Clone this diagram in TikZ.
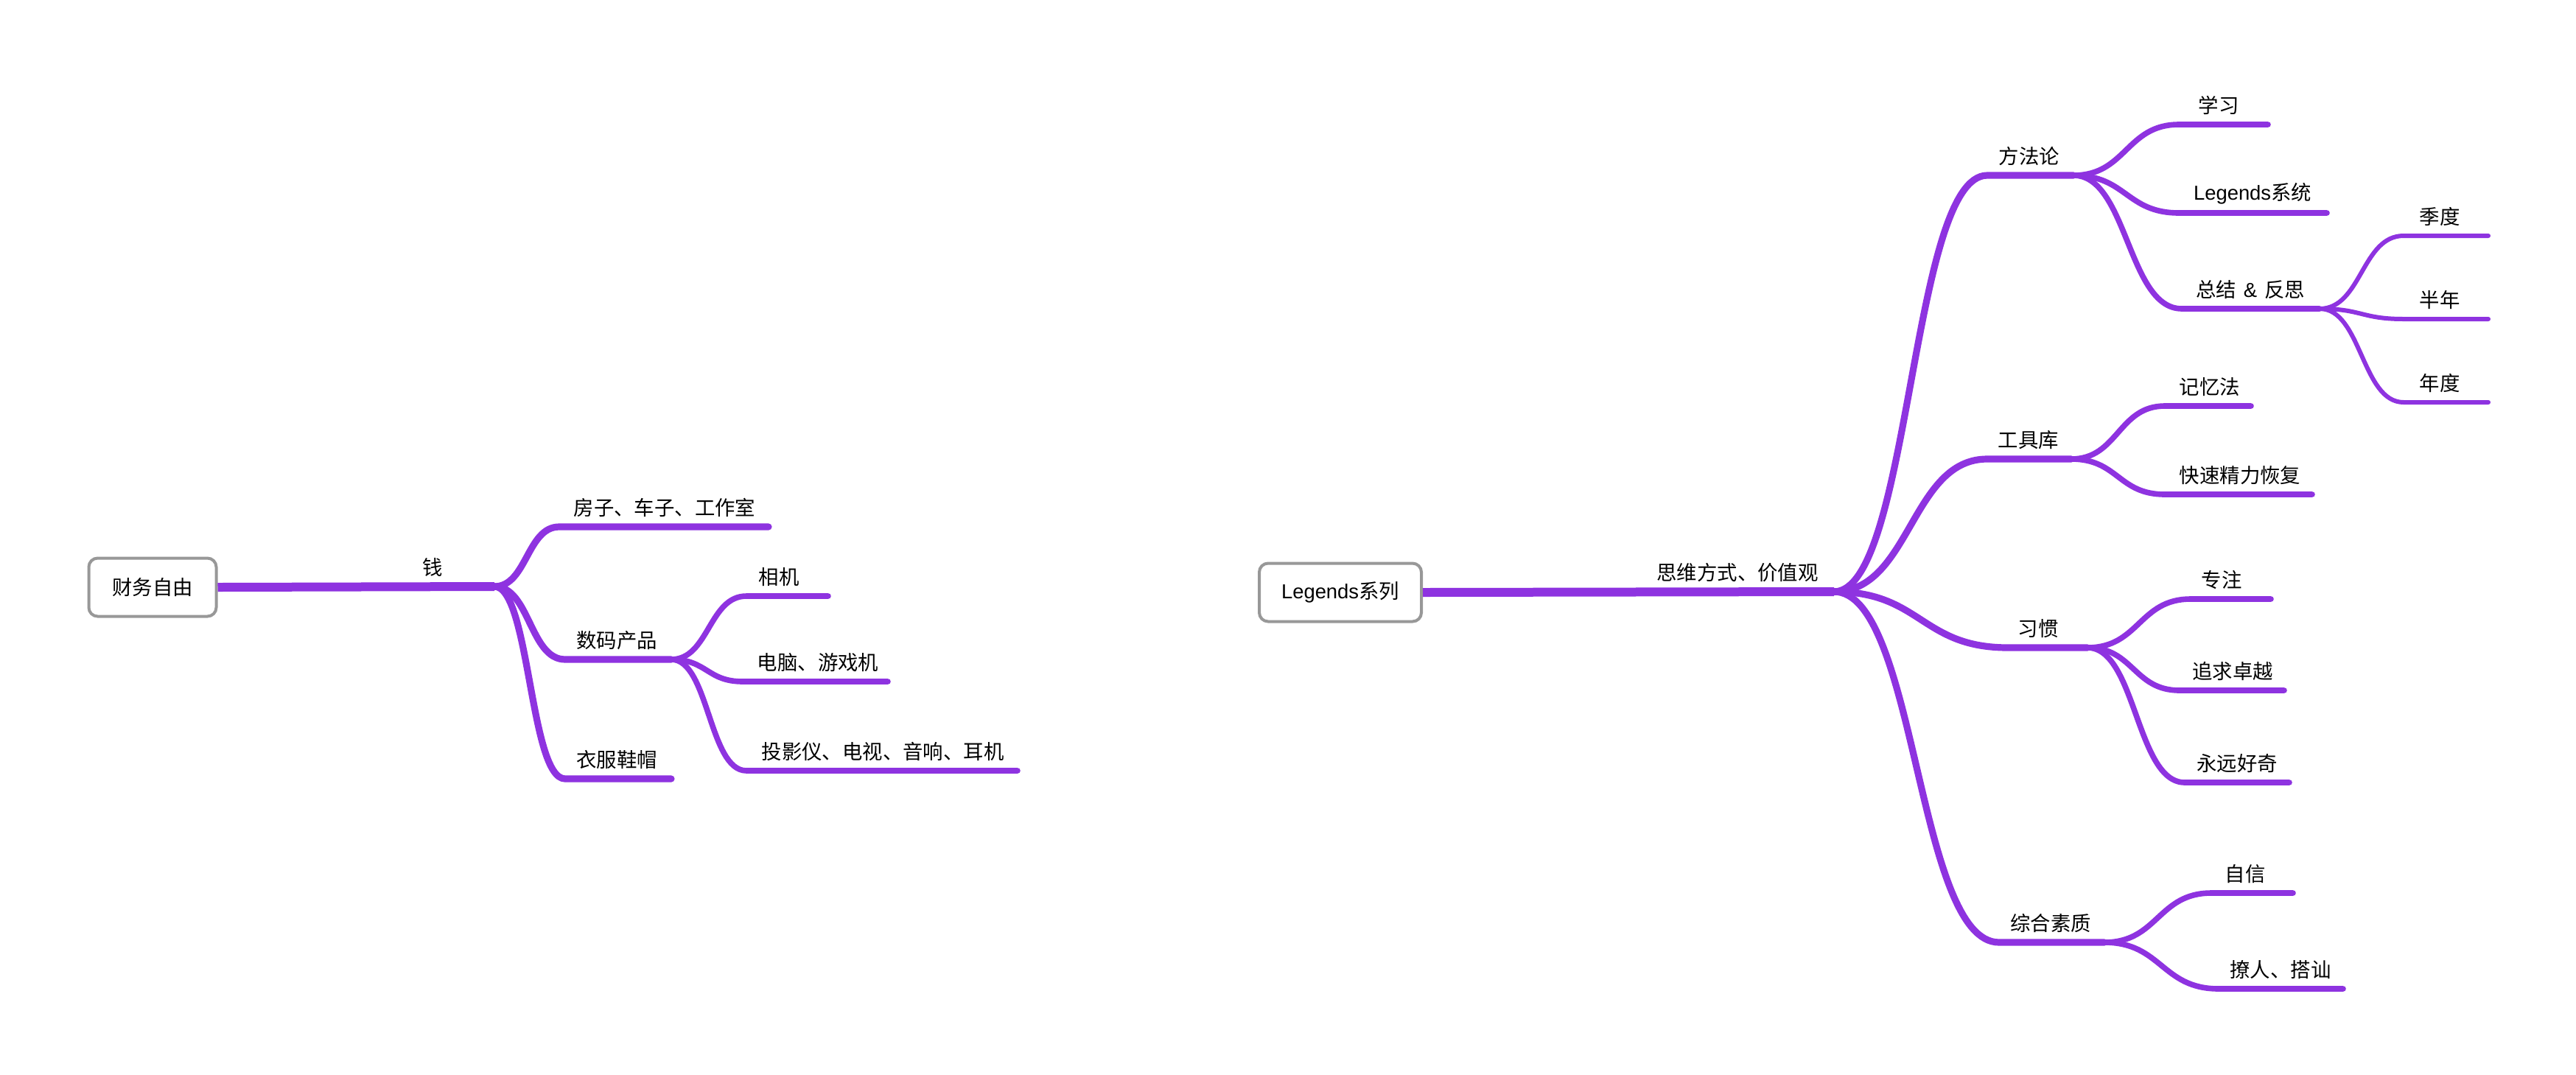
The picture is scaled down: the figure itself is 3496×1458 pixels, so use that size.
\documentclass[tikz,border=0pt]{standalone}
\usepackage{fontspec}
\setmainfont{Noto Sans CJK SC}
\newfontfamily\lat{Liberation Sans}
\usetikzlibrary{calc}
\definecolor{brc}{RGB}{142,51,224}
\definecolor{bxc}{RGB}{152,152,152}
\tikzset{
  lvzero/.style={draw=brc, line width=6pt, line cap=butt},
  lvone/.style={draw=brc, line width=4.6pt, line cap=round, line join=round},
  lvtwo/.style={draw=brc, line width=3.8pt, line cap=round, line join=round},
  lvthree/.style={draw=brc, line width=3pt, line cap=round, line join=round},
  lbl/.style={inner sep=0pt, font=\fontsize{13.7}{16}\selectfont},
  rootbox/.style={draw=bxc, line width=2pt, rounded corners=6pt, fill=white,
    inner sep=0pt, minimum height=39.5pt, font=\fontsize{13.7}{16}\selectfont}
}
\newcommand\brch[4]{\draw[#1] let \p1=(#2), \p2=(#3) in (#2) .. controls ({0.5*\x1+0.5*\x2},\y1) and ({0.5*\x1+0.5*\x2},\y2) .. (#3) -- (#4);}
\begin{document}
\begin{tikzpicture}[x=0.5pt,y=-0.5pt]
\useasboundingbox (0,0) rectangle (3496,1458);
\fill[white] (0,0) rectangle (3496,1458);

% ---------------- left tree ----------------
\node[rootbox, minimum width=86.5pt] (L0) at (207,797) {财务自由};
\coordinate (fL) at (671,796);
\draw[lvzero] (L0.east) -- (fL);
\node[lbl] (tqian) at (587,770) {钱};

\coordinate (a1s) at (759,715);  \coordinate (a1e) at (1043,715);
\coordinate (a2s) at (767,895);  \coordinate (a2e) at (911,895);
\coordinate (a3s) at (767,1057); \coordinate (a3e) at (911,1057);
\brch{lvone}{fL}{a1s}{a1e}
\brch{lvone}{fL}{a2s}{a2e}
\brch{lvone}{fL}{a3s}{a3e}
\node[lbl] (ta1) at (902,689) {房子、车子、工作室};
\node[lbl] (ta2) at (837,869) {数码产品};
\node[lbl] (ta3) at (837,1031) {衣服鞋帽};

\coordinate (b1s) at (1013,809);  \coordinate (b1e) at (1124,809);
\coordinate (b2s) at (1008,925);  \coordinate (b2e) at (1205,925);
\coordinate (b3s) at (1013,1046); \coordinate (b3e) at (1381,1046);
\brch{lvtwo}{a2e}{b1s}{b1e}
\brch{lvtwo}{a2e}{b2s}{b2e}
\brch{lvtwo}{a2e}{b3s}{b3e}
\node[lbl] (tb1) at (1057,783) {相机};
\node[lbl] (tb2) at (1110,899) {电脑、游戏机};
\node[lbl] (tb3) at (1198,1020) {投影仪、电视、音响、耳机};

% ---------------- right tree ----------------
\node[rootbox, minimum width=110pt] (R0) at (1819,804) {{\lat Legends}系列};
\coordinate (fR) at (2489,803);
\draw[lvzero] (R0.east) -- (fR);
\node[lbl] (tsw) at (2358,777) {思维方式、价值观};

\coordinate (c1s) at (2697,238);  \coordinate (c1e) at (2814,238);
\coordinate (c2s) at (2697,623);  \coordinate (c2e) at (2811,623);
\coordinate (c3s) at (2725,879);  \coordinate (c3e) at (2833,879);
\coordinate (c4s) at (2713,1279); \coordinate (c4e) at (2856,1279);
\brch{lvone}{fR}{c1s}{c1e}
\brch{lvone}{fR}{c2s}{c2e}
\brch{lvone}{fR}{c3s}{c3e}
\brch{lvone}{fR}{c4s}{c4e}
\node[lbl] (tc1) at (2754,212) {方法论};
\node[lbl] (tc2) at (2753,597) {工具库};
\node[lbl] (tc3) at (2766,853) {习惯};
\node[lbl] (tc4) at (2783,1253) {综合素质};

% children of 方法论
\coordinate (d1s) at (2957,169); \coordinate (d1e) at (3078,169);
\coordinate (d2s) at (2957,289); \coordinate (d2e) at (3158,289);
\coordinate (d3s) at (2961,419); \coordinate (d3e) at (3148,419);
\brch{lvtwo}{c1e}{d1s}{d1e}
\brch{lvtwo}{c1e}{d2s}{d2e}
\brch{lvtwo}{c1e}{d3s}{d3e}
\node[lbl] (td1) at (3011,143) {学习};
\node[lbl] (td2) at (3057,263) {{\lat Legends}系统};
\node[lbl] (td3) at (3054,393) {总结\hspace{5pt}{\lat\&}\hspace{5pt}反思};

% children of 总结 & 反思
\coordinate (g1s) at (3262,320); \coordinate (g1e) at (3377,320);
\coordinate (g2s) at (3262,433); \coordinate (g2e) at (3377,433);
\coordinate (g3s) at (3262,546); \coordinate (g3e) at (3377,546);
\brch{lvthree}{d3e}{g1s}{g1e}
\brch{lvthree}{d3e}{g2s}{g2e}
\brch{lvthree}{d3e}{g3s}{g3e}
\node[lbl] (tg1) at (3311,294) {季度};
\node[lbl] (tg2) at (3311,407) {半年};
\node[lbl] (tg3) at (3311,520) {年度};

% children of 工具库
\coordinate (d4s) at (2938,551); \coordinate (d4e) at (3055,551);
\coordinate (d5s) at (2938,671); \coordinate (d5e) at (3138,671);
\brch{lvtwo}{c2e}{d4s}{d4e}
\brch{lvtwo}{c2e}{d5s}{d5e}
\node[lbl] (td4) at (2999,525) {记忆法};
\node[lbl] (td5) at (3040,645) {快速精力恢复};

% children of 习惯
\coordinate (d6s) at (2973,813);  \coordinate (d6e) at (3082,813);
\coordinate (d7s) at (2958,937);  \coordinate (d7e) at (3100,937);
\coordinate (d8s) at (2965,1062); \coordinate (d8e) at (3107,1062);
\brch{lvtwo}{c3e}{d6s}{d6e}
\brch{lvtwo}{c3e}{d7s}{d7e}
\brch{lvtwo}{c3e}{d8s}{d8e}
\node[lbl] (td6) at (3015,787) {专注};
\node[lbl] (td7) at (3030,911) {追求卓越};
\node[lbl] (td8) at (3036,1036) {永远好奇};

% children of 综合素质
\coordinate (d9s) at (3001,1212);  \coordinate (d9e) at (3112,1212);
\coordinate (d10s) at (3011,1342); \coordinate (d10e) at (3180,1342);
\brch{lvtwo}{c4e}{d9s}{d9e}
\brch{lvtwo}{c4e}{d10s}{d10e}
\node[lbl] (td9) at (3047,1186) {自信};
\node[lbl] (td10) at (3095,1316) {撩人、搭讪};
\end{tikzpicture}
\end{document}
